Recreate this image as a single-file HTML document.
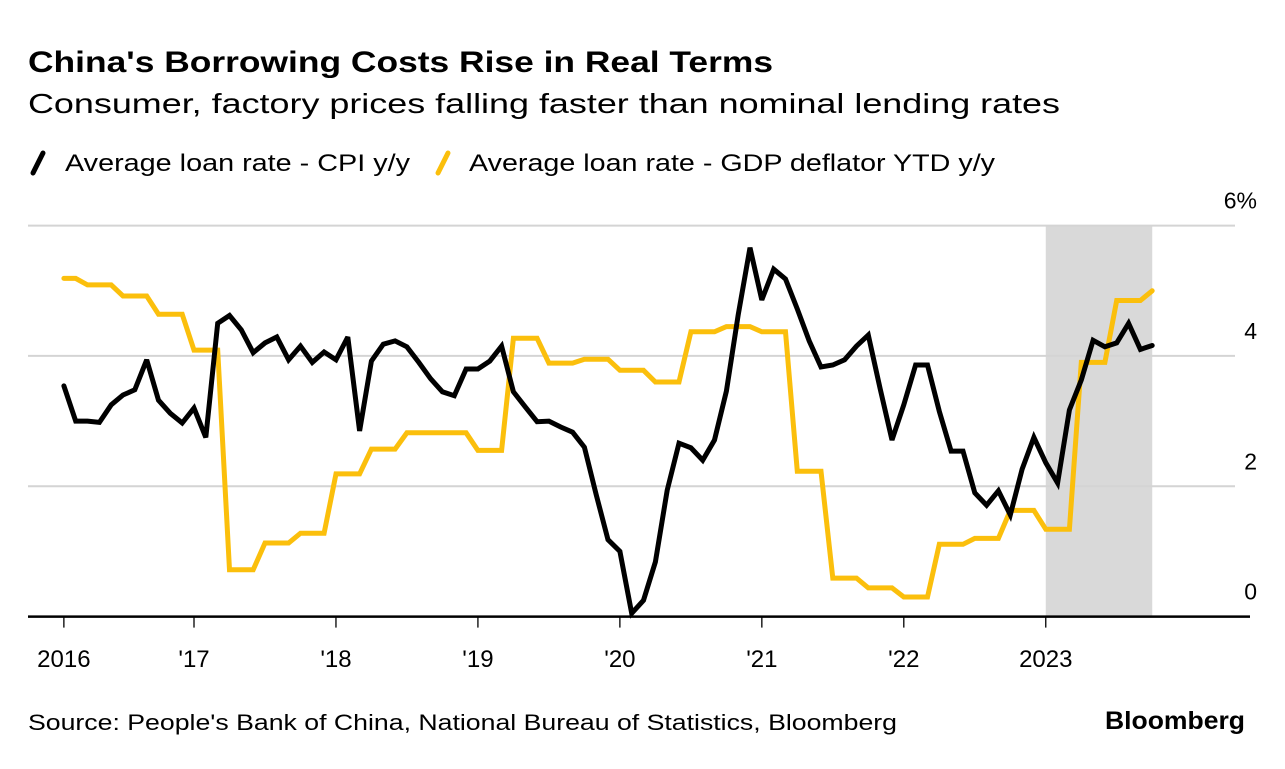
<!DOCTYPE html>
<html><head><meta charset="utf-8">
<style>
body{margin:0;width:1285px;height:764px;background:#fff;overflow:hidden;font-family:"Liberation Sans",sans-serif;color:#000}
svg text{font-family:"Liberation Sans",sans-serif}
</style></head>
<body>
<svg width="1285" height="764">
<text x="28" y="72" font-size="30" font-weight="bold" textLength="745" lengthAdjust="spacingAndGlyphs">China's Borrowing Costs Rise in Real Terms</text>
<text x="28" y="113" font-size="28" textLength="1032" lengthAdjust="spacingAndGlyphs">Consumer, factory prices falling faster than nominal lending rates</text>
<g>
<line x1="33" y1="173" x2="43" y2="153" stroke="#000" stroke-width="5" stroke-linecap="round"/>
<text x="65" y="171" font-size="24" textLength="345" lengthAdjust="spacingAndGlyphs">Average loan rate - CPI y/y</text>
<line x1="438" y1="173" x2="448" y2="153" stroke="#fbbf0c" stroke-width="5" stroke-linecap="round"/>
<text x="469" y="171" font-size="24" textLength="526" lengthAdjust="spacingAndGlyphs">Average loan rate - GDP deflator YTD y/y</text>
</g>
<g id="plot"></g>
<text x="28" y="730" font-size="22" textLength="869" lengthAdjust="spacingAndGlyphs">Source: People's Bank of China, National Bureau of Statistics, Bloomberg</text>
<text x="1105" y="729" font-size="25" font-weight="bold" textLength="140" lengthAdjust="spacingAndGlyphs">Bloomberg</text>
</svg>
<script>
const yTicks=[0,2,4,6];
const yTickLabels=["0","2","4","6%"];
const xTickYears=[2016,2017,2018,2019,2020,2021,2022,2023];
const xTickLabels=["2016","'17","'18","'19","'20","'21","'22","2023"];
const startYear=2016, startMonth=1; // Feb 2016 (0-based month)
const cpiSeries=[3.54,3.0,3.0,2.98,3.25,3.4,3.48,3.94,3.32,3.12,2.97,
3.2,2.75,4.5,4.62,4.4,4.05,4.2,4.29,3.94,4.15,3.9,4.06,
3.94,4.29,2.85,3.92,4.18,4.23,4.14,3.9,3.65,3.45,3.39,3.8,
3.8,3.92,4.15,3.45,3.22,2.99,3.0,2.91,2.83,2.6,1.87,1.18,
1.0,0.05,0.25,0.84,1.94,2.66,2.59,2.4,2.71,3.46,4.63,5.66,
4.86,5.33,5.18,4.72,4.23,3.83,3.86,3.94,4.15,4.32,3.5,2.71,
3.25,3.86,3.86,3.15,2.54,2.54,1.9,1.71,1.93,1.56,2.26,2.75,
2.36,2.05,3.17,3.63,4.24,4.14,4.2,4.5,4.1,4.16];
const gdpSeries=[5.19,5.19,5.09,5.09,5.09,4.92,4.92,4.92,4.64,4.64,4.64,
4.09,4.09,4.09,0.72,0.72,0.72,1.13,1.13,1.13,1.28,1.28,1.28,
2.19,2.19,2.19,2.57,2.57,2.57,2.82,2.82,2.82,2.82,2.82,2.82,
2.55,2.55,2.55,4.27,4.27,4.27,3.89,3.89,3.89,3.95,3.95,3.95,
3.78,3.78,3.78,3.6,3.6,3.6,4.37,4.37,4.37,4.45,4.45,4.45,
4.37,4.37,4.37,2.23,2.23,2.23,0.59,0.59,0.59,0.44,0.44,0.44,
0.3,0.3,0.3,1.11,1.11,1.11,1.2,1.2,1.2,1.63,1.63,1.63,
1.34,1.34,1.34,3.9,3.9,3.9,4.85,4.85,4.85,5.0];
const shadeStart=[2023,0], shadeEnd=[2023,9];

const NS="http://www.w3.org/2000/svg";
const plot=document.getElementById('plot');
const monthW=11.83, x2017=194;
function xm(year,month){return x2017+((year-2017)*12+month)*monthW;}
function xi(i){const m=startMonth+i;return xm(startYear+Math.floor(m/12),m%12);}
function y(v){return 616.6-v*65.17;}
function mk(tag,attrs){const e=document.createElementNS(NS,tag);for(const k in attrs)e.setAttribute(k,attrs[k]);plot.appendChild(e);return e;}

const sh=mk('rect',{x:xm(shadeStart[0],shadeStart[1]),y:y(6),width:xm(shadeEnd[0],shadeEnd[1])-xm(shadeStart[0],shadeStart[1]),height:y(0)-y(6),fill:'#d9d9d9'});



yTicks.forEach((t,i)=>{
  if(t>0){
    const g=mk('line',{x1:28,x2:1235,y1:y(t),y2:y(t),stroke:'#d4d4d4','stroke-width':2});
    
    
  }
  const tx=mk('text',{x:1257,y:y(t)-17,'font-size':23,'text-anchor':'end'});
  tx.textContent=yTickLabels[i];
  
  
});

function path(series,color,name){
  const d=series.map((v,i)=>(i?'L':'M')+xi(i).toFixed(1)+','+y(v).toFixed(1)).join('');
  const p=mk('path',{d:d,fill:'none',stroke:color,'stroke-width':5,'stroke-linejoin':'miter','stroke-miterlimit':3,'stroke-linecap':'round'});
  
  
}
path(gdpSeries,'#fbbf0c','line-gdp-deflator');
path(cpiSeries,'#000','line-cpi');

const ax=mk('line',{x1:28,x2:1250,y1:y(0),y2:y(0),stroke:'#000','stroke-width':2.5});


xTickYears.forEach((yr,i)=>{
  const xx=(yr===startYear)?xi(0):xm(yr,0);
  const tk=mk('line',{x1:xx,x2:xx,y1:y(0),y2:y(0)+11,stroke:'#000','stroke-width':1.3});
  
  
  const tx=mk('text',{x:xx,y:667,'font-size':24,'text-anchor':'middle'});
  tx.textContent=xTickLabels[i];
  
  
});
</script>
</body></html>
